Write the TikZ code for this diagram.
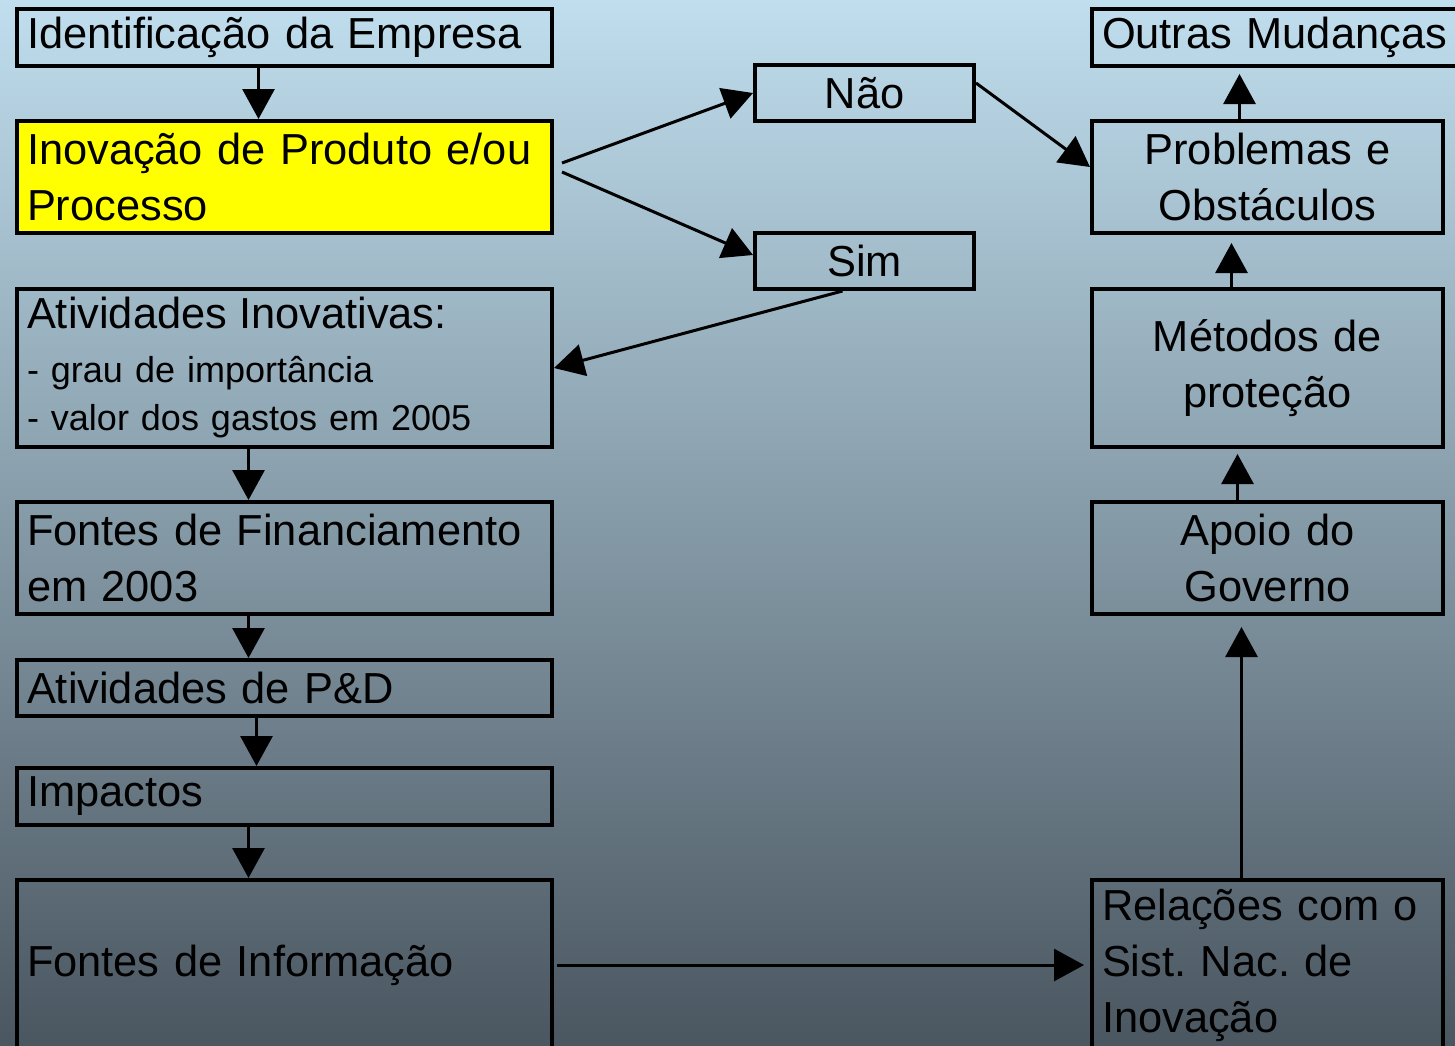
\documentclass[tikz,border=0pt]{standalone}
\usepackage{fontspec}
\setmainfont{Liberation Sans}
\usetikzlibrary{arrows.meta,positioning}
\definecolor{bgtop}{RGB}{192,222,238}
\definecolor{bgbot}{RGB}{74,86,96}
\definecolor{hilite}{RGB}{255,255,0}
\frenchspacing

\begin{document}
\begin{tikzpicture}[x=0.5pt,y=-0.5pt,
  box/.style={draw,line width=2pt,inner xsep=5pt,inner ysep=0pt,font=\fontsize{21.7}{28}\selectfont},
  lbox/.style={box,minimum width=267.5pt,text width=257.5pt,align=left},
  rbox/.style={box,minimum width=175.5pt,text width=165.5pt,align=center},
  sbox/.style={box,minimum width=109.5pt,minimum height=28pt,text width=99.5pt,align=center},
  arr/.style={-{Triangle[length=15pt,width=16pt]},line width=1.5pt}]
\useasboundingbox (0,0) rectangle (1455,1045);
\clip (0,0) rectangle (1455,1045);
\shade[top color=bgtop,bottom color=bgbot] (0,0) rectangle (1455,1045);

\node[lbox,minimum height=28.5pt] (ident) at (284.5,37.5) {Identificação da Empresa};
\node[lbox,minimum height=56pt,fill=hilite] (inov) at (284.5,177) {Inovação de Produto e/ou\\Processo};
\node[lbox,minimum height=79pt,font=\fontsize{18}{24}\selectfont] (ativ) at (284.5,368)
  {{\fontsize{21.7}{28}\selectfont Atividades Inovativas:}\\[3pt]- grau de importância\\- valor dos gastos em 2005};
\node[lbox,minimum height=56pt] (financ) at (284.5,558) {Fontes de Financiamento\\em 2003};
\node[lbox,minimum height=28pt] (ped) at (284.5,688) {Atividades de P\&D};
\node[lbox,minimum height=28.5pt] (impact) at (284.5,796.5) {Impactos};
\node[lbox,minimum height=85pt] (info) at (284.5,965) {Fontes de Informação};

\node[sbox] (nao) at (864.5,93) {Não};
\node[sbox] (sim) at (864.5,261) {Sim};

\node[box,minimum width=189pt,text width=179pt,align=left,minimum height=28.5pt] (outras) at (1281,37.5) {Outras Mudanças};
\node[rbox,minimum height=56pt] (probl) at (1267.5,177) {Problemas e\\Obstáculos};
\node[rbox,minimum height=79pt] (metod) at (1267.5,368) {Métodos de\\proteção};
\node[rbox,minimum height=56pt] (apoio) at (1267.5,558) {Apoio do\\Governo};
\node[rbox,minimum height=85pt,align=left] (relac) at (1267.5,965) {Relações com o\\Sist. Nac. de\\Inovação};

\draw[arr] ([xshift=-13pt]ident.south) -- ([xshift=-13pt]inov.north);
\draw[arr] ([xshift=4pt,yshift=7pt]inov.east) -- (nao.west);
\draw[arr] ([xshift=4pt,yshift=2.5pt]inov.east) -- ([yshift=3pt]sim.west);
\draw[arr] ([yshift=5pt]nao.east) -- ([yshift=5pt]probl.west);
\draw[arr] ([xshift=-11pt]sim.south) -- (ativ.east);
\draw[arr] ([xshift=-18pt]ativ.south) -- ([xshift=-18pt]financ.north);
\draw[arr] ([xshift=-18pt]financ.south) -- ([xshift=-18pt]ped.north);
\draw[arr] ([xshift=-14pt]ped.south) -- ([xshift=-14pt]impact.north);
\draw[arr] ([xshift=-18pt]impact.south) -- ([xshift=-18pt]info.north);
\draw[arr,shorten <=1.5pt,shorten >=3pt] (info.east) -- (relac.west);
\draw[arr,shorten >=5.5pt] ([xshift=-13pt]relac.north) -- ([xshift=-13pt]apoio.south);
\draw[arr,shorten >=2.5pt] ([xshift=-15pt]apoio.north) -- ([xshift=-15pt]metod.south);
\draw[arr,shorten >=4pt] ([xshift=-18pt]metod.north) -- ([xshift=-18pt]probl.south);
\draw[arr,shorten >=3pt] ([xshift=-14pt]probl.north) -- ([xshift=-14pt]probl.north |- outras.south);
\end{tikzpicture}
\end{document}
